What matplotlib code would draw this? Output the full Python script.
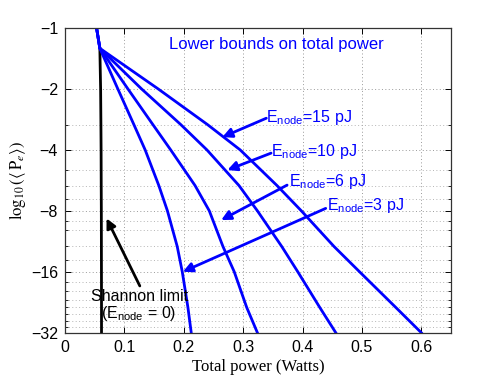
import matplotlib
matplotlib.use("Agg")
import matplotlib.pyplot as plt
from matplotlib.ticker import FixedLocator, FixedFormatter, NullFormatter

plt.rcParams['font.family'] = ['Liberation Sans', 'DejaVu Sans']
plt.rcParams['mathtext.fontset'] = 'stix'

# -log10(Pe) values (y axis, log2 spaced) and total power for each curve
v_pts = [1, 1.26, 2, 3, 4, 6, 8, 12, 16, 24, 32]
p_3pJ = [0.0532, 0.0587, 0.089, 0.116, 0.135, 0.158, 0.1725, 0.189, 0.1975, 0.207, 0.2126]
p_6pJ = [0.0532, 0.0587, 0.106, 0.148, 0.178, 0.219, 0.243, 0.266, 0.285, 0.306, 0.324]
p_10pJ = [0.0532, 0.0587, 0.129, 0.195, 0.239, 0.293, 0.324, 0.365, 0.392, 0.429, 0.456]
p_15pJ = [0.0532, 0.0587, 0.157, 0.240, 0.295, 0.357, 0.398, 0.453, 0.496, 0.557, 0.600]

v_shannon = [1.26, 2, 3, 4, 6, 8, 12, 16, 24, 32]
p_shannon = [0.0587, 0.0600, 0.0605, 0.0608, 0.0610, 0.0612, 0.0613, 0.0614, 0.0615, 0.0615]

y_ticks = [1, 2, 4, 8, 16, 32]
y_ticklabels = ['\u22121', '\u22122', '\u22124', '\u22128', '\u221216', '\u221232']
y_minor = [3, 5, 6, 7, 9, 10, 12, 14, 18, 20, 22, 24, 26, 28, 30]
x_ticks = [0, 0.1, 0.2, 0.3, 0.4, 0.5, 0.6]
x_ticklabels = ['0', '0.1', '0.2', '0.3', '0.4', '0.5', '0.6']

# labels: text, text position (x, v), arrow tail, arrow tip
labels = [
    ('15', (0.339, 2.77), (0.339, 2.79), (0.265, 3.46)),
    ('10', (0.3468, 4.06), (0.347, 4.15), (0.2735, 5.03)),
    ('6', (0.3775, 5.70), (0.374, 5.97), (0.263, 8.89)),
    ('3', (0.4418, 7.50), (0.439, 7.78), (0.1985, 16.0)),
]

fig = plt.figure(figsize=(4.98, 3.75), dpi=100)
ax = fig.add_axes([0.1305, 0.1128, 0.7751, 0.8125])

ax.plot(p_shannon, v_shannon, color='k', lw=2)
for p in [p_3pJ, p_6pJ, p_10pJ, p_15pJ]:
    ax.plot(p, v_pts, color='#0000ff', lw=2)

ax.set_yscale('log', base=2)
ax.set_ylim(32, 1)
ax.set_xlim(0, 0.65)

ax.yaxis.set_major_locator(FixedLocator(y_ticks))
ax.yaxis.set_major_formatter(FixedFormatter(y_ticklabels))
ax.yaxis.set_minor_locator(FixedLocator(y_minor))
ax.yaxis.set_minor_formatter(NullFormatter())
ax.xaxis.set_major_locator(FixedLocator(x_ticks))
ax.xaxis.set_major_formatter(FixedFormatter(x_ticklabels))

ax.grid(True, which='major', color='#9a9a9a', linestyle=(0, (1, 2.5)), lw=0.7)
ax.grid(True, which='minor', axis='y', color='#b5b5b5', linestyle=(0, (1, 2.5)), lw=0.7)
ax.set_axisbelow(True)

ax.tick_params(which='both', direction='in', top=True, right=True, labelsize=11.5, pad=5)
ax.tick_params(which='major', length=4.5, width=0.7)
ax.tick_params(which='minor', length=2.5, width=0.6)
for s in ax.spines.values():
    s.set_linewidth(0.9)
    s.set_color('#333333')

ax.set_xlabel('Total power (Watts)', family=['Liberation Serif'], fontsize=12, labelpad=3)
ax.set_ylabel(r'$\log_{10}(\langle\,\mathrm{P}_e\rangle)$', fontsize=12, labelpad=2)

ax.text(0.356, 1.2, 'Lower bounds on total power', color='#0000ff', fontsize=12,
        ha='center', va='center')

for val, tpos, tail, tip in labels:
    ax.annotate('', xy=tip, xytext=tail,
                arrowprops=dict(arrowstyle='-|>', lw=2, color='#0000ff',
                                mutation_scale=14, shrinkA=0, shrinkB=0))
    ax.text(tpos[0], tpos[1], r'E$_{\mathregular{node}}$=' + val + ' pJ',
            color='#0000ff', fontsize=11.5, ha='left', va='center')

ax.annotate('', xy=(0.070, 8.72), xytext=(0.126, 18.8),
            arrowprops=dict(arrowstyle='-|>', lw=2, color='k',
                            mutation_scale=14, shrinkA=0, shrinkB=0))
ax.text(0.125, 21.1, 'Shannon limit', fontsize=11.5, ha='center', va='center')
ax.text(0.124, 25.8, r'(E$_{\mathregular{node}}$ = 0)', fontsize=11.5, ha='center', va='center')

fig.savefig('out.png', dpi=100)
